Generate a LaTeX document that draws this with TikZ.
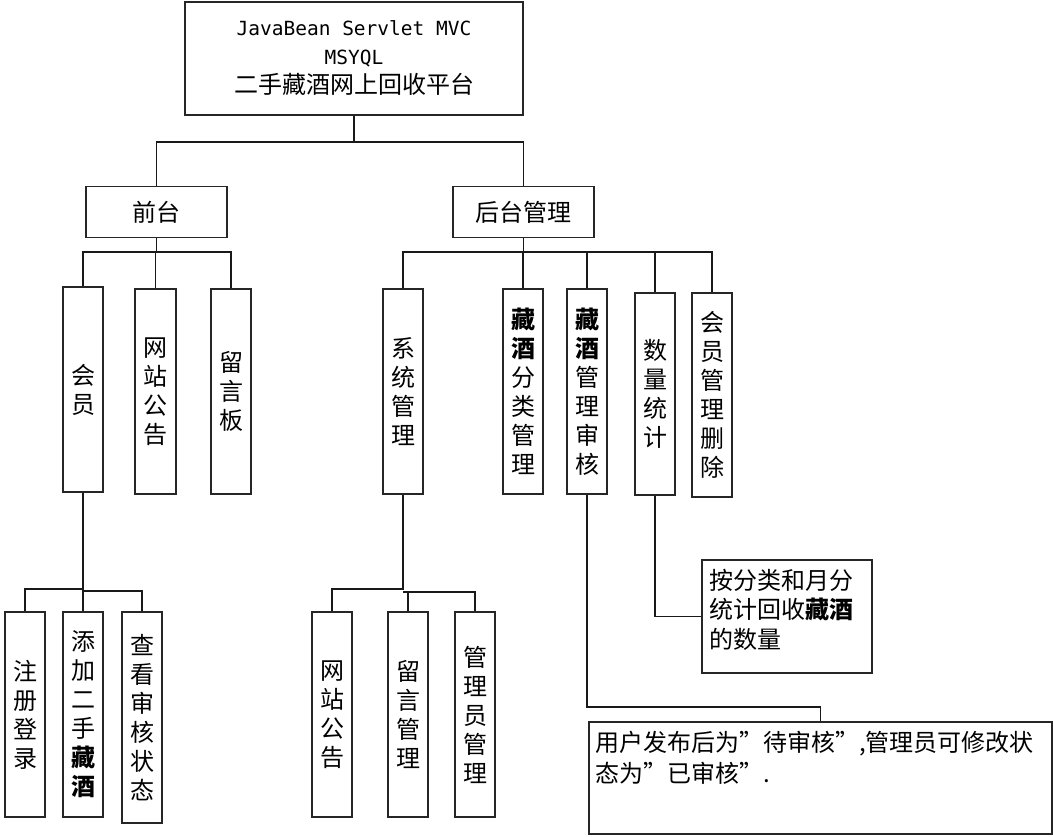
\documentclass[tikz,border=0pt]{standalone}
\usepackage{fontspec}
\newfontfamily\cjk{Noto Sans CJK SC}
\newfontfamily\monof{DejaVu Sans Mono}
\newcommand\cjkf{\cjk\fontsize{24}{29}\selectfont}
\begin{document}
\begin{tikzpicture}[x=1pt,y=-1pt,
  box/.style={draw=black!85, line width=1.2pt, inner sep=0pt, font=\cjkf, align=center, fill=white},
  vbox/.style={box, minimum width=40pt, minimum height=205pt},
  tbox/.style={draw=black!85, line width=1.2pt, inner ysep=0pt, font=\cjkf, align=left},
  conn/.style={draw=black!90, line width=1.2pt}]
\useasboundingbox (0,0) rectangle (1053,836);
\fill[white] (0,0) rectangle (1053,836);

% root
\node[box, minimum width=338pt, minimum height=113pt] (root) at (354,58.5)
  {{\monof\fontsize{19.5}{29}\selectfont JavaBean Servlet MVC}\\{\monof\fontsize{19.5}{29}\selectfont MSYQL}\\二手藏酒网上回收平台};

% level 1
\node[box, minimum width=141pt, minimum height=51pt] (qt) at (156.5,212) {前台};
\node[box, minimum width=141pt, minimum height=51pt] (ht) at (523.5,212) {后台管理};

% level 2 front
\node[vbox] (hy) at (83,389.5) {会\\员};
\node[vbox, minimum width=41pt] (wz) at (155.5,391.5) {网\\站\\公\\告};
\node[vbox] (ly) at (231,391.5) {留\\言\\板};

% level 2 back
\node[vbox] (xt) at (403,391.5) {系\\统\\管\\理};
\node[vbox] (fl) at (523,391.5) {\textbf{藏}\\\textbf{酒}\\分\\类\\管\\理};
\node[vbox] (sh) at (587,391.5) {\textbf{藏}\\\textbf{酒}\\管\\理\\审\\核};
\node[vbox, minimum height=202pt] (sl) at (655,394) {数\\量\\统\\计};
\node[vbox, minimum height=204pt] (hg) at (712,395) {会\\员\\管\\理\\删\\除};

% level 3 left
\node[vbox] (zc) at (25,714.5) {注\\册\\登\\录};
\node[vbox] (tj) at (83,714.5) {添\\加\\二\\手\\\textbf{藏}\\\textbf{酒}};
\node[vbox, minimum height=211pt] (ck) at (142,717.5) {查\\看\\审\\核\\状\\态};

% level 3 middle
\node[vbox] (wz2) at (332,714.5) {网\\站\\公\\告};
\node[vbox] (ly2) at (408,714.5) {留\\言\\管\\理};
\node[vbox] (gl) at (475,714.5) {管\\理\\员\\管\\理};

% notes
\node[tbox, inner xsep=7pt] (nf) at (787,616.5)
  {\parbox[c][113pt][t]{156pt}{\vspace*{9pt}\fontsize{24}{29.5}\selectfont 按分类和月分\\统计回收\textbf{藏酒}\\的数量}};
\node[tbox, inner xsep=6pt] (bb) at (820.5,778)
  {\parbox[c][112pt][t]{451pt}{\vspace*{9pt}\fontsize{24}{31}\selectfont 用户发布后为”待审核”,管理员可修改状\\态为”已审核”.}};

% connectors
\draw[conn] (root.south) -- (root.south |- 0,142) -| (qt.north);
\draw[conn] (root.south |- 0,142) -| (ht.north);

\draw[conn] (qt.south) -- (qt.south |- 0,252) -| (hy.north);
\draw[conn] (qt.south |- 0,252) -| (ly.north);
\draw[conn] (wz.north) -- (wz.north |- 0,252);

\draw[conn] (ht.south) -- (ht.south |- 0,252) -| (xt.north);
\draw[conn] (ht.south |- 0,252) -| (hg.north);
\draw[conn] (fl.north) -- (fl.north |- 0,252);
\draw[conn] (sh.north) -- (sh.north |- 0,252);
\draw[conn] (sl.north) -- (sl.north |- 0,252);

\draw[conn] (hy.south) -- (tj.north);
\draw[conn] (hy.south |- 0,589) -| (zc.north);
\draw[conn] (hy.south |- 0,591) -| (ck.north);

\draw[conn] (xt.south) -- (xt.south |- 0,589) -| (wz2.north);
\draw[conn] (xt.south |- 0,592) -| (gl.north);
\draw[conn] (ly2.north) -- (ly2.north |- 0,592);

\draw[conn] (sl.south) |- (nf.west);
\draw[conn] (sh.south) -- (sh.south |- 0,707) -| (bb.north);
\end{tikzpicture}
\end{document}
